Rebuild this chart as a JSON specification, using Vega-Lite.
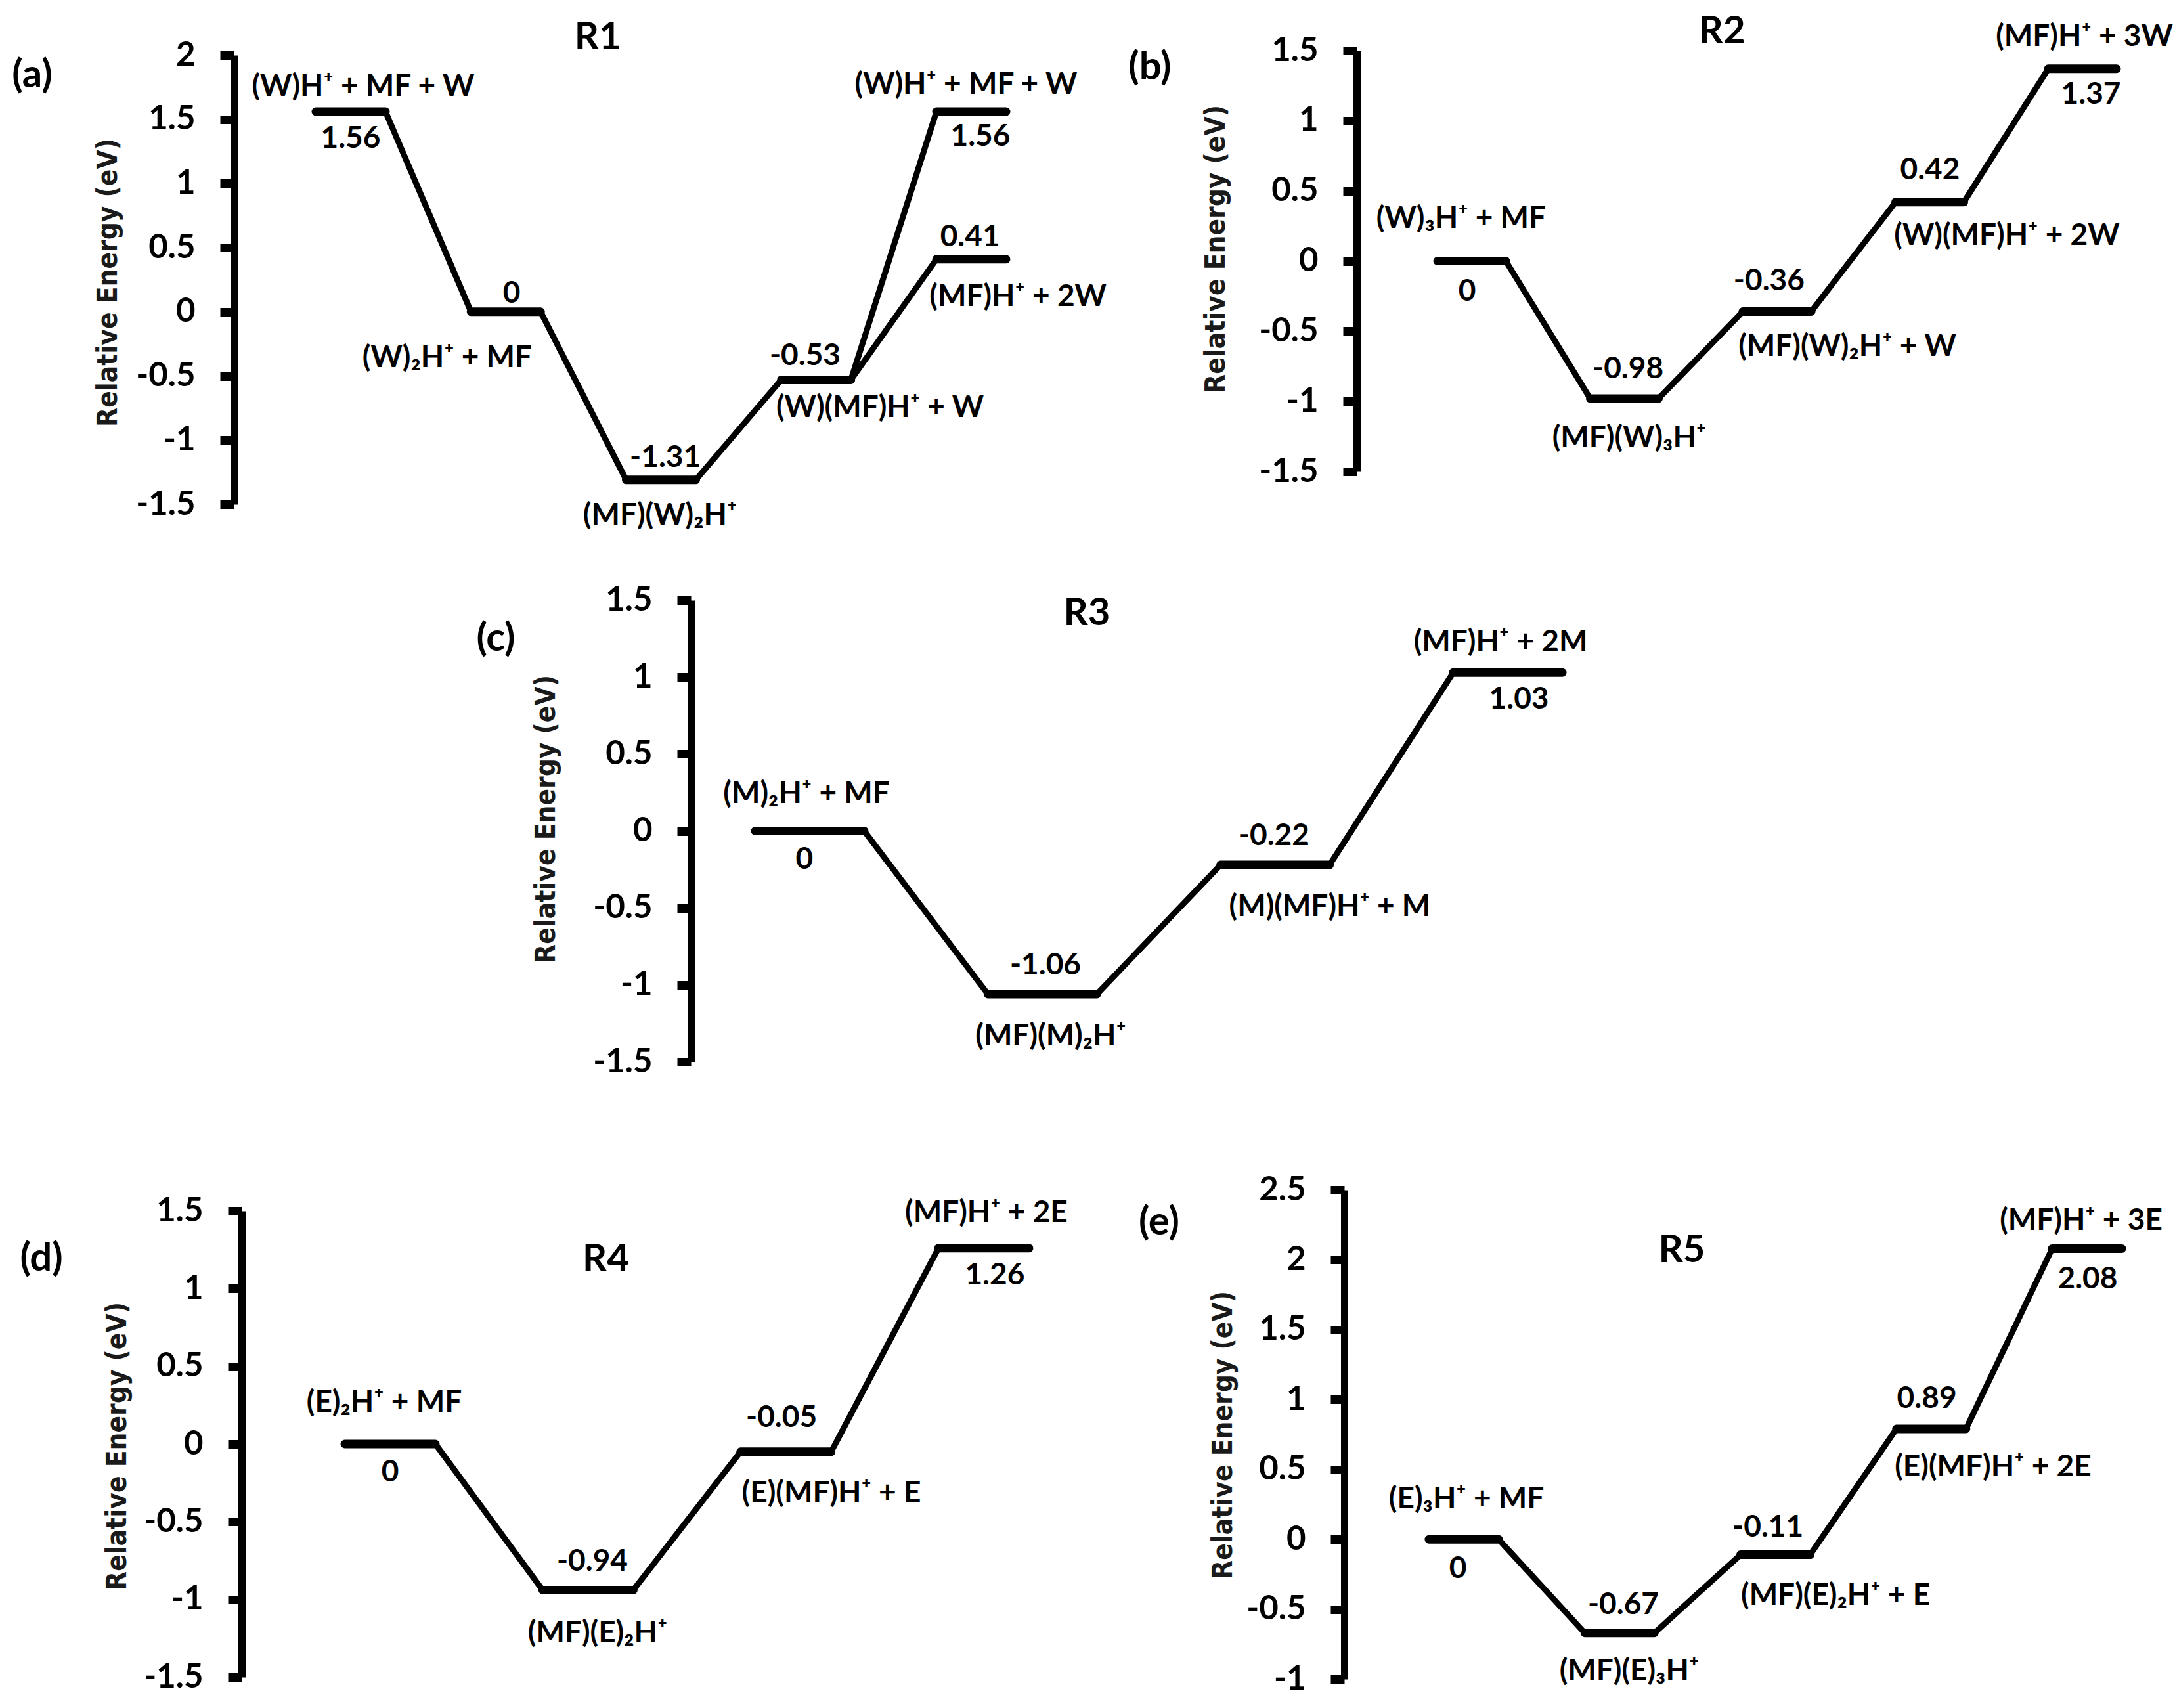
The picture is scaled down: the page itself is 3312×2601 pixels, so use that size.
{
  "$schema": "https://vega.github.io/schema/vega-lite/v6.json",
  "background": "white",
  "padding": 0,
  "spacing": 0,
  "bounds": "flush",
  "columns": 2,
  "config": {"view": {"stroke": null}, "concat": {"spacing": 0}, "axis": {"grid": false}},
  "datasets": {
    "levels": [
      {"panel": "a", "step": 0, "energy": 1.56}, {"panel": "a", "step": 1, "energy": 0}, {"panel": "a", "step": 2, "energy": -1.31}, {"panel": "a", "step": 3, "energy": -0.53}, {"panel": "a", "step": 4, "energy": 1.56}, {"panel": "a", "step": 4, "energy": 0.41},
      {"panel": "b", "step": 0, "energy": 0}, {"panel": "b", "step": 1, "energy": -0.98}, {"panel": "b", "step": 2, "energy": -0.36}, {"panel": "b", "step": 3, "energy": 0.42}, {"panel": "b", "step": 4, "energy": 1.37},
      {"panel": "c", "step": 0, "energy": 0}, {"panel": "c", "step": 1, "energy": -1.06}, {"panel": "c", "step": 2, "energy": -0.22}, {"panel": "c", "step": 3, "energy": 1.03},
      {"panel": "d", "step": 0, "energy": 0}, {"panel": "d", "step": 1, "energy": -0.94}, {"panel": "d", "step": 2, "energy": -0.05}, {"panel": "d", "step": 3, "energy": 1.26},
      {"panel": "e", "step": 0, "energy": 0}, {"panel": "e", "step": 1, "energy": -0.67}, {"panel": "e", "step": 2, "energy": -0.11}, {"panel": "e", "step": 3, "energy": 0.79}, {"panel": "e", "step": 4, "energy": 2.08}
    ],
    "links": [
      {"panel": "a", "step": 0, "energy": 1.56, "next_step": 1, "next_energy": 0},
      {"panel": "a", "step": 1, "energy": 0, "next_step": 2, "next_energy": -1.31},
      {"panel": "a", "step": 2, "energy": -1.31, "next_step": 3, "next_energy": -0.53},
      {"panel": "a", "step": 3, "energy": -0.53, "next_step": 4, "next_energy": 1.56},
      {"panel": "a", "step": 3, "energy": -0.53, "next_step": 4, "next_energy": 0.41},
      {"panel": "b", "step": 0, "energy": 0, "next_step": 1, "next_energy": -0.98},
      {"panel": "b", "step": 1, "energy": -0.98, "next_step": 2, "next_energy": -0.36},
      {"panel": "b", "step": 2, "energy": -0.36, "next_step": 3, "next_energy": 0.42},
      {"panel": "b", "step": 3, "energy": 0.42, "next_step": 4, "next_energy": 1.37},
      {"panel": "c", "step": 0, "energy": 0, "next_step": 1, "next_energy": -1.06},
      {"panel": "c", "step": 1, "energy": -1.06, "next_step": 2, "next_energy": -0.22},
      {"panel": "c", "step": 2, "energy": -0.22, "next_step": 3, "next_energy": 1.03},
      {"panel": "d", "step": 0, "energy": 0, "next_step": 1, "next_energy": -0.94},
      {"panel": "d", "step": 1, "energy": -0.94, "next_step": 2, "next_energy": -0.05},
      {"panel": "d", "step": 2, "energy": -0.05, "next_step": 3, "next_energy": 1.26},
      {"panel": "e", "step": 0, "energy": 0, "next_step": 1, "next_energy": -0.67},
      {"panel": "e", "step": 1, "energy": -0.67, "next_step": 2, "next_energy": -0.11},
      {"panel": "e", "step": 2, "energy": -0.11, "next_step": 3, "next_energy": 0.79},
      {"panel": "e", "step": 3, "energy": 0.79, "next_step": 4, "next_energy": 2.08}
    ],
    "labels": [
      {"panel": "a", "kind": "tag", "text": "(a)", "step": -2.053, "energy": 1.842},
      {"panel": "a", "kind": "title", "text": "R1", "step": 1.592, "energy": 2.133},
      {"panel": "a", "kind": "species", "text": "(W)H⁺ + MF + W", "step": 0.08, "energy": 1.755},
      {"panel": "a", "kind": "value", "text": "1.56", "step": 0, "energy": 1.351},
      {"panel": "a", "kind": "value", "text": "0", "step": 1.037, "energy": 0.14},
      {"panel": "a", "kind": "species", "text": "(W)₂H⁺ + MF", "step": 0.622, "energy": -0.361},
      {"panel": "a", "kind": "value", "text": "-1.31", "step": 2.028, "energy": -1.137},
      {"panel": "a", "kind": "species", "text": "(MF)(W)₂H⁺", "step": 1.994, "energy": -1.587},
      {"panel": "a", "kind": "value", "text": "-0.53", "step": 2.929, "energy": -0.345},
      {"panel": "a", "kind": "species", "text": "(W)(MF)H⁺ + W", "step": 3.412, "energy": -0.749},
      {"panel": "a", "kind": "species", "text": "(W)H⁺ + MF + W", "step": 3.966, "energy": 1.77},
      {"panel": "a", "kind": "value", "text": "1.56", "step": 4.059, "energy": 1.366},
      {"panel": "a", "kind": "value", "text": "0.41", "step": 3.992, "energy": 0.585},
      {"panel": "a", "kind": "species", "text": "(MF)H⁺ + 2W", "step": 4.301, "energy": 0.115},

      {"panel": "b", "kind": "tag", "text": "(b)", "step": -2.108, "energy": 1.38},
      {"panel": "b", "kind": "title", "text": "R2", "step": 1.639, "energy": 1.631},
      {"panel": "b", "kind": "species", "text": "(W)₃H⁺ + MF", "step": -0.069, "energy": 0.302},
      {"panel": "b", "kind": "value", "text": "0", "step": -0.03, "energy": -0.218},
      {"panel": "b", "kind": "value", "text": "-0.98", "step": 1.024, "energy": -0.77},
      {"panel": "b", "kind": "species", "text": "(MF)(W)₃H⁺", "step": 1.032, "energy": -1.261},
      {"panel": "b", "kind": "value", "text": "-0.36", "step": 1.948, "energy": -0.143},
      {"panel": "b", "kind": "species", "text": "(MF)(W)₂H⁺ + W", "step": 2.46, "energy": -0.611},
      {"panel": "b", "kind": "value", "text": "0.42", "step": 3.002, "energy": 0.648},
      {"panel": "b", "kind": "species", "text": "(W)(MF)H⁺ + 2W", "step": 3.505, "energy": 0.18},
      {"panel": "b", "kind": "species", "text": "(MF)H⁺ + 3W", "step": 4.013, "energy": 1.598},
      {"panel": "b", "kind": "value", "text": "1.37", "step": 4.056, "energy": 1.186},

      {"panel": "c", "kind": "tag", "text": "(c)", "step": -1.349, "energy": 1.25},
      {"panel": "c", "kind": "title", "text": "R3", "step": 1.191, "energy": 1.41},
      {"panel": "c", "kind": "species", "text": "(M)₂H⁺ + MF", "step": -0.014, "energy": 0.241},
      {"panel": "c", "kind": "value", "text": "0", "step": -0.023, "energy": -0.186},
      {"panel": "c", "kind": "value", "text": "-1.06", "step": 1.013, "energy": -0.873},
      {"panel": "c", "kind": "species", "text": "(MF)(M)₂H⁺", "step": 1.036, "energy": -1.334},
      {"panel": "c", "kind": "value", "text": "-0.22", "step": 1.995, "energy": -0.032},
      {"panel": "c", "kind": "species", "text": "(M)(MF)H⁺ + M", "step": 2.235, "energy": -0.493},
      {"panel": "c", "kind": "species", "text": "(MF)H⁺ + 2M", "step": 2.969, "energy": 1.227},
      {"panel": "c", "kind": "value", "text": "1.03", "step": 3.048, "energy": 0.856},

      {"panel": "d", "kind": "tag", "text": "(d)", "step": -1.762, "energy": 1.19},
      {"panel": "d", "kind": "title", "text": "R4", "step": 1.09, "energy": 1.185},
      {"panel": "d", "kind": "species", "text": "(E)₂H⁺ + MF", "step": -0.03, "energy": 0.266},
      {"panel": "d", "kind": "value", "text": "0", "step": 0, "energy": -0.182},
      {"panel": "d", "kind": "value", "text": "-0.94", "step": 1.022, "energy": -0.756},
      {"panel": "d", "kind": "species", "text": "(MF)(E)₂H⁺", "step": 1.049, "energy": -1.217},
      {"panel": "d", "kind": "value", "text": "-0.05", "step": 1.978, "energy": 0.169},
      {"panel": "d", "kind": "species", "text": "(E)(MF)H⁺ + E", "step": 2.23, "energy": -0.317},
      {"panel": "d", "kind": "species", "text": "(MF)H⁺ + 2E", "step": 3.013, "energy": 1.487},
      {"panel": "d", "kind": "value", "text": "1.26", "step": 3.056, "energy": 1.086},

      {"panel": "e", "kind": "tag", "text": "(e)", "step": -1.956, "energy": 2.265},
      {"panel": "e", "kind": "title", "text": "R5", "step": 1.399, "energy": 2.063},
      {"panel": "e", "kind": "species", "text": "(E)₃H⁺ + MF", "step": 0.017, "energy": 0.287},
      {"panel": "e", "kind": "value", "text": "0", "step": -0.038, "energy": -0.211},
      {"panel": "e", "kind": "value", "text": "-0.67", "step": 1.024, "energy": -0.469},
      {"panel": "e", "kind": "species", "text": "(MF)(E)₃H⁺", "step": 1.062, "energy": -0.944},
      {"panel": "e", "kind": "value", "text": "-0.11", "step": 1.952, "energy": 0.085},
      {"panel": "e", "kind": "species", "text": "(MF)(E)₂H⁺ + E", "step": 2.386, "energy": -0.403},
      {"panel": "e", "kind": "value", "text": "0.89", "step": 2.972, "energy": 1.006},
      {"panel": "e", "kind": "species", "text": "(E)(MF)H⁺ + 2E", "step": 3.397, "energy": 0.517},
      {"panel": "e", "kind": "species", "text": "(MF)H⁺ + 3E", "step": 3.962, "energy": 2.279},
      {"panel": "e", "kind": "value", "text": "2.08", "step": 4.004, "energy": 1.861}
    ]
  },
  "concat": [
    {
      "width": 1650, "height": 850,
      "encoding": {
        "x": {"field": "step", "type": "quantitative", "axis": null, "scale": {"domain": [0, 4], "range": [534, 1479], "nice": false, "zero": false}},
        "y": {"field": "energy", "type": "quantitative", "scale": {"domain": [-1.5, 2], "range": [768, 84], "nice": false, "zero": false},
          "axis": {"values": [-1.5, -1, -0.5, 0, 0.5, 1, 1.5, 2], "labelExpr": "datum.value < 0 ? '-' + format(-datum.value, '~g') : format(datum.value, '~g')", "offset": -356, "domainColor": "black", "domainWidth": 11, "tickColor": "black", "tickWidth": 13, "tickSize": 21, "labelFont": "Lato, Noto Sans, DejaVu Sans, sans-serif", "labelFontSize": 51, "labelFontWeight": "bold", "labelColor": "black", "labelPadding": 38, "labelFlush": false, "labelOverlap": false, "grid": false, "title": "Relative Energy (eV)", "titleFont": "DejaVu Sans Condensed, DejaVu Sans, sans-serif", "titleFontSize": 42, "titleFontWeight": "bold", "titleColor": "#1a1a1a", "titleX": -179, "titleY": 430, "titleBaseline": "alphabetic", "titleAngle": 270, "titleAlign": "center"}}
      },
      "layer": [
        {"data": {"name": "links"}, "transform": [{"filter": "datum.panel == 'a'"}], "mark": {"type": "rule", "color": "black", "strokeWidth": 9, "strokeCap": "round", "xOffset": 53, "x2Offset": -53}, "encoding": {"x2": {"field": "next_step"}, "y2": {"field": "next_energy"}}},
        {"data": {"name": "levels"}, "transform": [{"filter": "datum.panel == 'a'"}], "mark": {"type": "rule", "color": "black", "strokeWidth": 13, "strokeCap": "round", "xOffset": -53, "x2Offset": 53}, "encoding": {"x2": {"field": "step"}}},
        {"data": {"name": "labels"}, "transform": [{"filter": "datum.panel == 'a' && datum.kind == 'species'"}], "mark": {"type": "text", "align": "center", "baseline": "middle", "color": "black", "font": "Lato, Noto Sans, DejaVu Sans, sans-serif", "fontSize": 46, "fontWeight": "bold"}, "encoding": {"text": {"field": "text"}}},
        {"data": {"name": "labels"}, "transform": [{"filter": "datum.panel == 'a' && datum.kind == 'value'"}], "mark": {"type": "text", "align": "center", "baseline": "middle", "color": "black", "font": "Lato, Noto Sans, DejaVu Sans, sans-serif", "fontSize": 46, "fontWeight": "bold"}, "encoding": {"text": {"field": "text"}}},
        {"data": {"name": "labels"}, "transform": [{"filter": "datum.panel == 'a' && datum.kind == 'tag'"}], "mark": {"type": "text", "align": "center", "baseline": "middle", "color": "black", "font": "Lato, Noto Sans, DejaVu Sans, sans-serif", "fontSize": 60, "fontWeight": "bold"}, "encoding": {"text": {"field": "text"}}},
        {"data": {"name": "labels"}, "transform": [{"filter": "datum.panel == 'a' && datum.kind == 'title'"}], "mark": {"type": "text", "align": "center", "baseline": "middle", "color": "black", "font": "Lato, Noto Sans, DejaVu Sans, sans-serif", "fontSize": 58, "fontWeight": "bold"}, "encoding": {"text": {"field": "text"}}}
      ]
    },
    {
      "width": 1662, "height": 850,
      "encoding": {
        "x": {"field": "step", "type": "quantitative", "axis": null, "scale": {"domain": [0, 4], "range": [591, 1521], "nice": false, "zero": false}},
        "y": {"field": "energy", "type": "quantitative", "scale": {"domain": [-1.5, 1.5], "range": [718, 77], "nice": false, "zero": false},
          "axis": {"values": [-1.5, -1, -0.5, 0, 0.5, 1, 1.5], "labelExpr": "datum.value < 0 ? '-' + format(-datum.value, '~g') : format(datum.value, '~g')", "offset": -416, "domainColor": "black", "domainWidth": 11, "tickColor": "black", "tickWidth": 13, "tickSize": 21, "labelFont": "Lato, Noto Sans, DejaVu Sans, sans-serif", "labelFontSize": 51, "labelFontWeight": "bold", "labelColor": "black", "labelPadding": 38, "labelFlush": false, "labelOverlap": false, "grid": false, "title": "Relative Energy (eV)", "titleFont": "DejaVu Sans Condensed, DejaVu Sans, sans-serif", "titleFontSize": 42, "titleFontWeight": "bold", "titleColor": "#1a1a1a", "titleX": -202, "titleY": 379, "titleBaseline": "alphabetic", "titleAngle": 270, "titleAlign": "center"}}
      },
      "layer": [
        {"data": {"name": "links"}, "transform": [{"filter": "datum.panel == 'b'"}], "mark": {"type": "rule", "color": "black", "strokeWidth": 9, "strokeCap": "round", "xOffset": 52, "x2Offset": -52}, "encoding": {"x2": {"field": "next_step"}, "y2": {"field": "next_energy"}}},
        {"data": {"name": "levels"}, "transform": [{"filter": "datum.panel == 'b'"}], "mark": {"type": "rule", "color": "black", "strokeWidth": 13, "strokeCap": "round", "xOffset": -52, "x2Offset": 52}, "encoding": {"x2": {"field": "step"}}},
        {"data": {"name": "labels"}, "transform": [{"filter": "datum.panel == 'b' && datum.kind == 'species'"}], "mark": {"type": "text", "align": "center", "baseline": "middle", "color": "black", "font": "Lato, Noto Sans, DejaVu Sans, sans-serif", "fontSize": 46, "fontWeight": "bold"}, "encoding": {"text": {"field": "text"}}},
        {"data": {"name": "labels"}, "transform": [{"filter": "datum.panel == 'b' && datum.kind == 'value'"}], "mark": {"type": "text", "align": "center", "baseline": "middle", "color": "black", "font": "Lato, Noto Sans, DejaVu Sans, sans-serif", "fontSize": 46, "fontWeight": "bold"}, "encoding": {"text": {"field": "text"}}},
        {"data": {"name": "labels"}, "transform": [{"filter": "datum.panel == 'b' && datum.kind == 'tag'"}], "mark": {"type": "text", "align": "center", "baseline": "middle", "color": "black", "font": "Lato, Noto Sans, DejaVu Sans, sans-serif", "fontSize": 60, "fontWeight": "bold"}, "encoding": {"text": {"field": "text"}}},
        {"data": {"name": "labels"}, "transform": [{"filter": "datum.panel == 'b' && datum.kind == 'title'"}], "mark": {"type": "text", "align": "center", "baseline": "middle", "color": "black", "font": "Lato, Noto Sans, DejaVu Sans, sans-serif", "fontSize": 58, "fontWeight": "bold"}, "encoding": {"text": {"field": "text"}}}
      ]
    },
    {
      "width": 1650, "height": 850,
      "encoding": {
        "x": {"field": "step", "type": "quantitative", "axis": null, "scale": {"domain": [0, 3], "range": [1233, 2296], "nice": false, "zero": false}},
        "y": {"field": "energy", "type": "quantitative", "scale": {"domain": [-1.5, 1.5], "range": [767, 64], "nice": false, "zero": false},
          "axis": {"values": [-1.5, -1, -0.5, 0, 0.5, 1, 1.5], "labelExpr": "datum.value < 0 ? '-' + format(-datum.value, '~g') : format(datum.value, '~g')", "offset": -1052, "domainColor": "black", "domainWidth": 11, "tickColor": "black", "tickWidth": 13, "tickSize": 21, "labelFont": "Lato, Noto Sans, DejaVu Sans, sans-serif", "labelFontSize": 51, "labelFontWeight": "bold", "labelColor": "black", "labelPadding": 38, "labelFlush": false, "labelOverlap": false, "grid": false, "title": "Relative Energy (eV)", "titleFont": "DejaVu Sans Condensed, DejaVu Sans, sans-serif", "titleFontSize": 42, "titleFontWeight": "bold", "titleColor": "#1a1a1a", "titleX": -208, "titleY": 397, "titleBaseline": "alphabetic", "titleAngle": 270, "titleAlign": "center"}}
      },
      "layer": [
        {"data": {"name": "links"}, "transform": [{"filter": "datum.panel == 'c'"}], "mark": {"type": "rule", "color": "black", "strokeWidth": 9, "strokeCap": "round", "xOffset": 83, "x2Offset": -83}, "encoding": {"x2": {"field": "next_step"}, "y2": {"field": "next_energy"}}},
        {"data": {"name": "levels"}, "transform": [{"filter": "datum.panel == 'c'"}], "mark": {"type": "rule", "color": "black", "strokeWidth": 13, "strokeCap": "round", "xOffset": -83, "x2Offset": 83}, "encoding": {"x2": {"field": "step"}}},
        {"data": {"name": "labels"}, "transform": [{"filter": "datum.panel == 'c' && datum.kind == 'species'"}], "mark": {"type": "text", "align": "center", "baseline": "middle", "color": "black", "font": "Lato, Noto Sans, DejaVu Sans, sans-serif", "fontSize": 46, "fontWeight": "bold"}, "encoding": {"text": {"field": "text"}}},
        {"data": {"name": "labels"}, "transform": [{"filter": "datum.panel == 'c' && datum.kind == 'value'"}], "mark": {"type": "text", "align": "center", "baseline": "middle", "color": "black", "font": "Lato, Noto Sans, DejaVu Sans, sans-serif", "fontSize": 46, "fontWeight": "bold"}, "encoding": {"text": {"field": "text"}}},
        {"data": {"name": "labels"}, "transform": [{"filter": "datum.panel == 'c' && datum.kind == 'tag'"}], "mark": {"type": "text", "align": "center", "baseline": "middle", "color": "black", "font": "Lato, Noto Sans, DejaVu Sans, sans-serif", "fontSize": 60, "fontWeight": "bold"}, "encoding": {"text": {"field": "text"}}},
        {"data": {"name": "labels"}, "transform": [{"filter": "datum.panel == 'c' && datum.kind == 'title'"}], "mark": {"type": "text", "align": "center", "baseline": "middle", "color": "black", "font": "Lato, Noto Sans, DejaVu Sans, sans-serif", "fontSize": 58, "fontWeight": "bold"}, "encoding": {"text": {"field": "text"}}}
      ]
    },
    {
      "width": 1662, "height": 850,
      "data": {"values": []},
      "mark": {"type": "point", "opacity": 0}
    },
    {
      "width": 1650, "height": 901,
      "encoding": {
        "x": {"field": "step", "type": "quantitative", "axis": null, "scale": {"domain": [0, 3], "range": [594, 1498], "nice": false, "zero": false}},
        "y": {"field": "energy", "type": "quantitative", "scale": {"domain": [-1.5, 1.5], "range": [854, 144], "nice": false, "zero": false},
          "axis": {"values": [-1.5, -1, -0.5, 0, 0.5, 1, 1.5], "labelExpr": "datum.value < 0 ? '-' + format(-datum.value, '~g') : format(datum.value, '~g')", "offset": -368, "domainColor": "black", "domainWidth": 11, "tickColor": "black", "tickWidth": 13, "tickSize": 21, "labelFont": "Lato, Noto Sans, DejaVu Sans, sans-serif", "labelFontSize": 51, "labelFontWeight": "bold", "labelColor": "black", "labelPadding": 38, "labelFlush": false, "labelOverlap": false, "grid": false, "title": "Relative Energy (eV)", "titleFont": "DejaVu Sans Condensed, DejaVu Sans, sans-serif", "titleFontSize": 42, "titleFontWeight": "bold", "titleColor": "#1a1a1a", "titleX": -177, "titleY": 502, "titleBaseline": "alphabetic", "titleAngle": 270, "titleAlign": "center"}}
      },
      "layer": [
        {"data": {"name": "links"}, "transform": [{"filter": "datum.panel == 'd'"}], "mark": {"type": "rule", "color": "black", "strokeWidth": 9, "strokeCap": "round", "xOffset": 69, "x2Offset": -69}, "encoding": {"x2": {"field": "next_step"}, "y2": {"field": "next_energy"}}},
        {"data": {"name": "levels"}, "transform": [{"filter": "datum.panel == 'd'"}], "mark": {"type": "rule", "color": "black", "strokeWidth": 13, "strokeCap": "round", "xOffset": -69, "x2Offset": 69}, "encoding": {"x2": {"field": "step"}}},
        {"data": {"name": "labels"}, "transform": [{"filter": "datum.panel == 'd' && datum.kind == 'species'"}], "mark": {"type": "text", "align": "center", "baseline": "middle", "color": "black", "font": "Lato, Noto Sans, DejaVu Sans, sans-serif", "fontSize": 46, "fontWeight": "bold"}, "encoding": {"text": {"field": "text"}}},
        {"data": {"name": "labels"}, "transform": [{"filter": "datum.panel == 'd' && datum.kind == 'value'"}], "mark": {"type": "text", "align": "center", "baseline": "middle", "color": "black", "font": "Lato, Noto Sans, DejaVu Sans, sans-serif", "fontSize": 46, "fontWeight": "bold"}, "encoding": {"text": {"field": "text"}}},
        {"data": {"name": "labels"}, "transform": [{"filter": "datum.panel == 'd' && datum.kind == 'tag'"}], "mark": {"type": "text", "align": "center", "baseline": "middle", "color": "black", "font": "Lato, Noto Sans, DejaVu Sans, sans-serif", "fontSize": 60, "fontWeight": "bold"}, "encoding": {"text": {"field": "text"}}},
        {"data": {"name": "labels"}, "transform": [{"filter": "datum.panel == 'd' && datum.kind == 'title'"}], "mark": {"type": "text", "align": "center", "baseline": "middle", "color": "black", "font": "Lato, Noto Sans, DejaVu Sans, sans-serif", "fontSize": 58, "fontWeight": "bold"}, "encoding": {"text": {"field": "text"}}}
      ]
    },
    {
      "width": 1662, "height": 901,
      "encoding": {
        "x": {"field": "step", "type": "quantitative", "axis": null, "scale": {"domain": [0, 4], "range": [579, 1528], "nice": false, "zero": false}},
        "y": {"field": "energy", "type": "quantitative", "scale": {"domain": [-1, 2.5], "range": [857, 112], "nice": false, "zero": false},
          "axis": {"values": [-1, -0.5, 0, 0.5, 1, 1.5, 2, 2.5], "labelExpr": "datum.value < 0 ? '-' + format(-datum.value, '~g') : format(datum.value, '~g')", "offset": -397, "domainColor": "black", "domainWidth": 11, "tickColor": "black", "tickWidth": 13, "tickSize": 21, "labelFont": "Lato, Noto Sans, DejaVu Sans, sans-serif", "labelFontSize": 51, "labelFontWeight": "bold", "labelColor": "black", "labelPadding": 38, "labelFlush": false, "labelOverlap": false, "grid": false, "title": "Relative Energy (eV)", "titleFont": "DejaVu Sans Condensed, DejaVu Sans, sans-serif", "titleFontSize": 42, "titleFontWeight": "bold", "titleColor": "#1a1a1a", "titleX": -172, "titleY": 485, "titleBaseline": "alphabetic", "titleAngle": 270, "titleAlign": "center"}}
      },
      "layer": [
        {"data": {"name": "links"}, "transform": [{"filter": "datum.panel == 'e'"}], "mark": {"type": "rule", "color": "black", "strokeWidth": 9, "strokeCap": "round", "xOffset": 53, "x2Offset": -53}, "encoding": {"x2": {"field": "next_step"}, "y2": {"field": "next_energy"}}},
        {"data": {"name": "levels"}, "transform": [{"filter": "datum.panel == 'e'"}], "mark": {"type": "rule", "color": "black", "strokeWidth": 13, "strokeCap": "round", "xOffset": -53, "x2Offset": 53}, "encoding": {"x2": {"field": "step"}}},
        {"data": {"name": "labels"}, "transform": [{"filter": "datum.panel == 'e' && datum.kind == 'species'"}], "mark": {"type": "text", "align": "center", "baseline": "middle", "color": "black", "font": "Lato, Noto Sans, DejaVu Sans, sans-serif", "fontSize": 46, "fontWeight": "bold"}, "encoding": {"text": {"field": "text"}}},
        {"data": {"name": "labels"}, "transform": [{"filter": "datum.panel == 'e' && datum.kind == 'value'"}], "mark": {"type": "text", "align": "center", "baseline": "middle", "color": "black", "font": "Lato, Noto Sans, DejaVu Sans, sans-serif", "fontSize": 46, "fontWeight": "bold"}, "encoding": {"text": {"field": "text"}}},
        {"data": {"name": "labels"}, "transform": [{"filter": "datum.panel == 'e' && datum.kind == 'tag'"}], "mark": {"type": "text", "align": "center", "baseline": "middle", "color": "black", "font": "Lato, Noto Sans, DejaVu Sans, sans-serif", "fontSize": 60, "fontWeight": "bold"}, "encoding": {"text": {"field": "text"}}},
        {"data": {"name": "labels"}, "transform": [{"filter": "datum.panel == 'e' && datum.kind == 'title'"}], "mark": {"type": "text", "align": "center", "baseline": "middle", "color": "black", "font": "Lato, Noto Sans, DejaVu Sans, sans-serif", "fontSize": 58, "fontWeight": "bold"}, "encoding": {"text": {"field": "text"}}}
      ]
    }
  ]
}
